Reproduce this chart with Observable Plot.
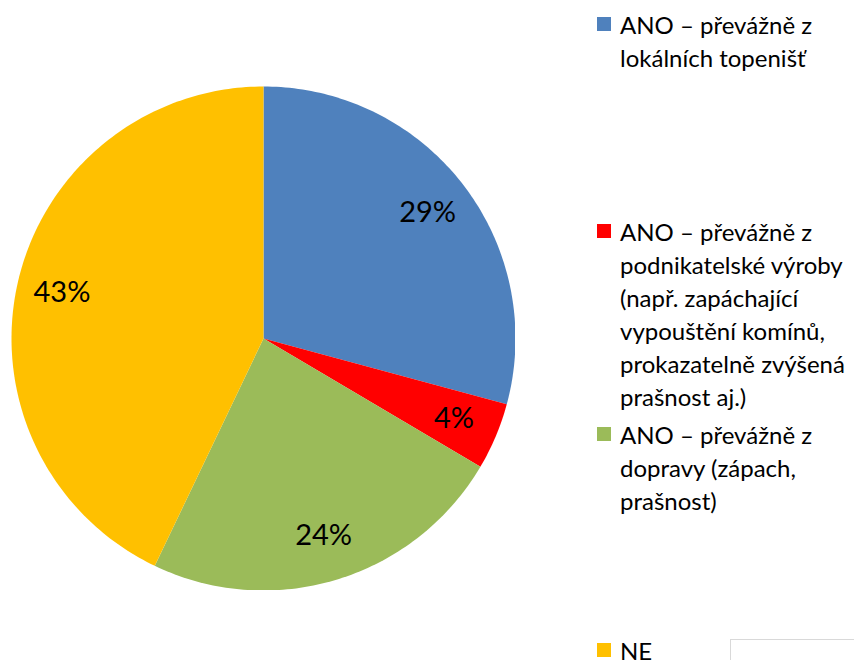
<!DOCTYPE html>
<html>
<head>
<meta charset="utf-8">
<script src="https://cdn.jsdelivr.net/npm/d3@7"></script>
<script src="https://cdn.jsdelivr.net/npm/@observablehq/plot@0.6"></script>
<style>
  html, body { margin: 0; padding: 0; background: #fff; }
  body { width: 854px; height: 660px; position: relative; overflow: hidden; font-family: Lato, "Open Sans", sans-serif; }
  #chart { position: absolute; left: 11px; top: 86px; }
  .leg { position: absolute; left: 597px; font-size: 24px; line-height: 33px; color: #000; }
  .leg .sw { position: absolute; left: 0; width: 14px; height: 14px; }
  .leg .tx { position: absolute; left: 23px; white-space: nowrap; }
  #frame { position: absolute; left: 730px; top: 639px; width: 300px; height: 100px; border: 1px solid #d9d9d9; }
</style>
</head>
<body>
<div id="chart"></div>
<div id="legend"></div>
<div id="frame"></div>
<script>
const categories = [
  "ANO – převážně z lokálních topenišť",
  "ANO – převážně z podnikatelské výroby (např. zapáchající vypouštění komínů, prokazatelně zvýšená prašnost aj.)",
  "ANO – převážně z dopravy (zápach, prašnost)",
  "NE"
];
const legendLines = [
  ["ANO – převážně z", "lokálních topenišť"],
  ["ANO – převážně z", "podnikatelské výroby", "(např. zapáchající", "vypouštění komínů,", "prokazatelně zvýšená", "prašnost aj.)"],
  ["ANO – převážně z", "dopravy (zápach,", "prašnost)"],
  ["NE"]
];
const values = [29.2, 4.3, 23.6, 42.9];
const labels = ["29%", "4%", "24%", "43%"];
const colors = ["#4F81BD", "#FF0000", "#9BBB59", "#FFC000"];

const total = d3.sum(values);
let acc = 0;
const slices = values.map((v, i) => {
  const a0 = acc / total * 2 * Math.PI;
  acc += v;
  const a1 = acc / total * 2 * Math.PI;
  return {cat: categories[i], label: labels[i], a0, a1};
});

function ring(a0, a1) {
  const n = Math.max(8, Math.ceil((a1 - a0) / (2 * Math.PI) * 360));
  const pts = [[0, 0]];
  for (let k = 0; k <= n; k++) {
    const a = a0 + (a1 - a0) * k / n;
    pts.push([Math.sin(a), Math.cos(a)]);
  }
  pts.push([0, 0]);
  return pts;
}

const features = slices.map(s => ({
  type: "Feature",
  properties: {cat: s.cat},
  geometry: {type: "Polygon", coordinates: [ring(s.a0, s.a1)]}
}));

const circle = {type: "Polygon", coordinates: [ring(0, 2 * Math.PI).slice(1, -1).concat([[0, 1]])]};

const labelPts = slices.map(s => {
  const m = (s.a0 + s.a1) / 2;
  const r = 0.82;
  return {x: Math.sin(m) * r, y: Math.cos(m) * r, label: s.label};
});

const plot = Plot.plot({
  width: 504,
  height: 504,
  margin: 0,
  projection: {type: "reflect-y", domain: circle},
  color: {domain: categories, range: colors},
  marks: [
    Plot.geo(features, {fill: d => d.properties.cat, stroke: "none"}),
    Plot.text(labelPts, {x: "x", y: "y", text: "label", fontSize: 29, fill: "#000", fontFamily: "Lato, 'Open Sans', sans-serif"})
  ]
});
document.getElementById("chart").appendChild(plot);

const tops = [8, 215, 418, 634];
const leg = document.getElementById("legend");
categories.forEach((c, i) => {
  const d = document.createElement("div");
  d.className = "leg";
  d.style.top = tops[i] + "px";
  const sw = document.createElement("div");
  sw.className = "sw";
  sw.style.background = colors[i];
  sw.style.top = "9px";
  d.appendChild(sw);
  const tx = document.createElement("div");
  tx.className = "tx";
  tx.innerHTML = legendLines[i].join("<br>");
  d.appendChild(tx);
  leg.appendChild(d);
});
</script>
</body>
</html>
